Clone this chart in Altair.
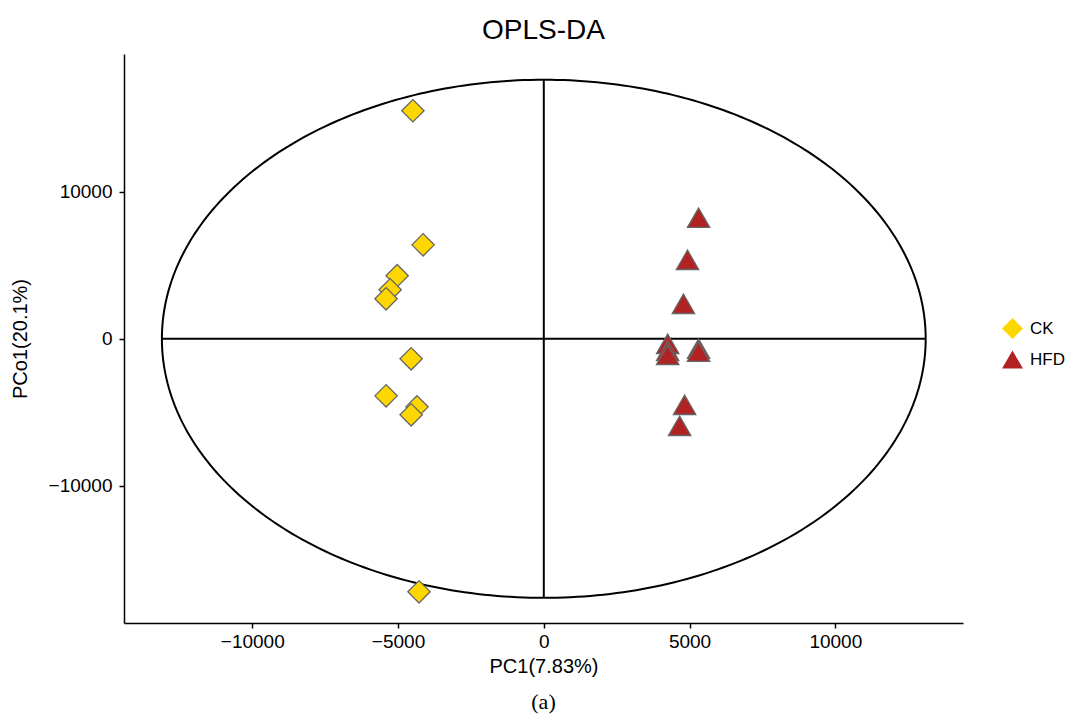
import altair as alt
import pandas as pd
import numpy as np

# ---- data ----
ck_x = [-4490, -4140, -5030, -5270, -5410, -4550, -5410, -4350, -4550, -4280]
ck_y = [15510, 6390, 4290, 3330, 2720, -1360, -3880, -4630, -5170, -17210]
hfd_x = [5310, 4930, 4790, 4250, 4250, 4250, 5310, 5310, 4830, 4660]
hfd_y = [8230, 5370, 2380, -340, -820, -1090, -680, -880, -4490, -5920]
groups = ["CK", "HFD"]
group_colors = ["#FFD700", "#B22222"]
group_shapes = ["diamond", "triangle-up"]

ellipse_a = 13100   # semi-axis along PC1
ellipse_b = 17620   # semi-axis along PCo1
x_ticks = [-10000, -5000, 0, 5000, 10000]
y_ticks = [-10000, 0, 10000]
x_domain = [-14400, 14380]
y_domain = [-19330, 19370]

pts = pd.DataFrame({
    "x": ck_x + hfd_x,
    "y": ck_y + hfd_y,
    "group": ["CK"] * len(ck_x) + ["HFD"] * len(hfd_x),
})

t = np.linspace(0, 2 * np.pi, 361)
ell = pd.DataFrame({"x": ellipse_a * np.cos(t), "y": ellipse_b * np.sin(t), "o": np.arange(len(t))})
hline = pd.DataFrame({"x": [-ellipse_a], "x2": [ellipse_a], "y": [0]})
vline = pd.DataFrame({"x": [0], "y": [-ellipse_b], "y2": [ellipse_b]})

W, H = 839, 569
FONT = "Liberation Sans"

xs = alt.Scale(domain=x_domain, nice=False, zero=False)
ys = alt.Scale(domain=y_domain, nice=False, zero=False)

xax = alt.Axis(values=x_ticks, format="d", title="PC1(7.83%)", grid=False,
               domainColor="black", domainWidth=1.5, tickColor="black", tickWidth=1.5,
               tickSize=5, labelPadding=4, labelFontSize=19, labelColor="black",
               titleFontSize=20, titleFontWeight="normal", titleColor="black",
               titleBaseline="middle", titleY=43, titleX=W / 2,
               labelFont=FONT, titleFont=FONT)
yax = alt.Axis(values=y_ticks, format="d", title="PCo1(20.1%)", grid=False,
               domainColor="black", domainWidth=1.5, tickColor="black", tickWidth=1.5,
               tickSize=5, labelPadding=7, labelFontSize=19, labelColor="black",
               titleFontSize=20, titleFontWeight="normal", titleColor="black",
               titleBaseline="middle", titleX=-104, titleY=H / 2,
               labelFont=FONT, titleFont=FONT)

ellipse = alt.Chart(ell).mark_line(color="black", strokeWidth=2).encode(
    x=alt.X("x:Q", scale=xs, axis=xax),
    y=alt.Y("y:Q", scale=ys, axis=yax),
    order="o:Q",
)
h = alt.Chart(hline).mark_rule(color="black", strokeWidth=2).encode(
    x=alt.X("x:Q", scale=xs), x2="x2:Q", y=alt.Y("y:Q", scale=ys))
v = alt.Chart(vline).mark_rule(color="black", strokeWidth=2).encode(
    x=alt.X("x:Q", scale=xs), y=alt.Y("y:Q", scale=ys), y2="y2:Q")

legend = alt.Legend(title=None, orient="none", legendX=877, legendY=263, padding=0,
                    labelFont=FONT, labelFontSize=17, labelColor="black",
                    symbolSize=440, symbolStrokeColor="#666666", symbolStrokeWidth=1.2,
                    rowPadding=6, labelOffset=6)

points = alt.Chart(pts).mark_point(filled=True, size=500, stroke="#666666",
                                   strokeWidth=1.3, opacity=1).encode(
    x=alt.X("x:Q", scale=xs),
    y=alt.Y("y:Q", scale=ys),
    fill=alt.Fill("group:N", scale=alt.Scale(domain=groups, range=group_colors), legend=legend),
    shape=alt.Shape("group:N", scale=alt.Scale(domain=groups, range=group_shapes), legend=legend),
)

caption = alt.Chart(pd.DataFrame({"t": ["(a)"]})).mark_text(
    font="Liberation Serif", fontSize=22, color="black", baseline="middle"
).encode(text="t:N", x=alt.value(W / 2), y=alt.value(648))

chart = alt.layer(ellipse, h, v, points, caption).properties(
    width=W, height=H,
    title=alt.TitleParams("OPLS-DA", font=FONT, fontSize=28, fontWeight="normal",
                          color="black", anchor="middle", offset=9),
    autosize=alt.AutoSizeParams(type="none"),
    padding={"left": 116, "top": 46, "right": 104, "bottom": 92},
).configure_view(stroke=None)

chart.save("out.html", embed_options={"renderer": "svg", "actions": False})
